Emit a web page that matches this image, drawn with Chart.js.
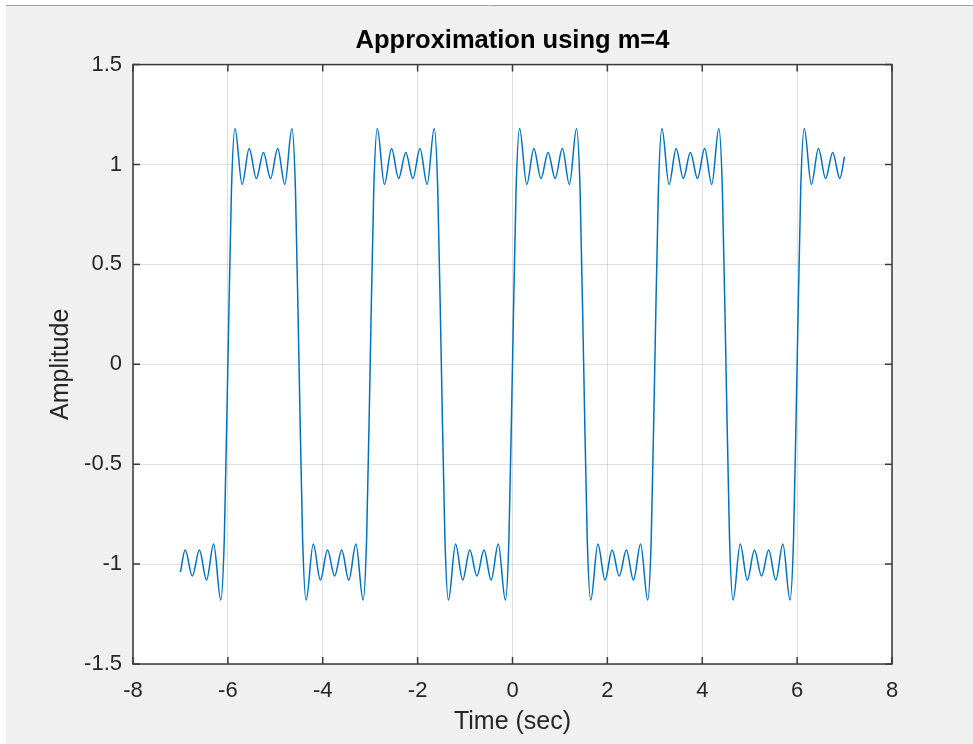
<!DOCTYPE html>
<html>
<head>
<meta charset="utf-8">
<title>Approximation using m=4</title>
<script src="https://cdn.jsdelivr.net/npm/chart.js@4.4.1/dist/chart.umd.min.js"></script>
<style>
    html, body { margin: 0; padding: 0; background: #ffffff; }
    canvas { display: block; }
</style>
</head>
<body>
<canvas id="approxChart" width="973" height="744"></canvas>
<script>
// Values (time in sec, amplitude)
const timeValues = [
    -7.00, -6.90, -6.75, -6.60, -6.45, -6.30, -6.15, -6.075, -6.00,
    -5.925, -5.85, -5.70, -5.55, -5.40, -5.25, -5.10, -4.95, -4.80, -4.65, -4.575, -4.50,
    -4.425, -4.35, -4.20, -4.05, -3.90, -3.75, -3.60, -3.45, -3.30, -3.15, -3.075, -3.00,
    -2.925, -2.85, -2.70, -2.55, -2.40, -2.25, -2.10, -1.95, -1.80, -1.65, -1.575, -1.50,
    -1.425, -1.35, -1.20, -1.05, -0.90, -0.75, -0.60, -0.45, -0.30, -0.15, -0.075, 0.00,
    0.075, 0.15, 0.30, 0.45, 0.60, 0.75, 0.90, 1.05, 1.20, 1.35, 1.425, 1.50,
    1.575, 1.65, 1.80, 1.95, 2.10, 2.25, 2.40, 2.55, 2.70, 2.85, 2.925, 3.00,
    3.075, 3.15, 3.30, 3.45, 3.60, 3.75, 3.90, 4.05, 4.20, 4.35, 4.425, 4.50,
    4.575, 4.65, 4.80, 4.95, 5.10, 5.25, 5.40, 5.55, 5.70, 5.85, 5.925, 6.00,
    6.075, 6.15, 6.30, 6.45, 6.60, 6.75, 6.90, 7.00
];

const amplitudeValues = [
    -1.04, -0.93, -1.06, -0.93, -1.08, -0.90, -1.18, -0.87, 0,
    0.87, 1.18, 0.90, 1.08, 0.93, 1.06, 0.93, 1.08, 0.90, 1.18, 0.87, 0,
    -0.87, -1.18, -0.90, -1.08, -0.93, -1.06, -0.93, -1.08, -0.90, -1.18, -0.87, 0,
    0.87, 1.18, 0.90, 1.08, 0.93, 1.06, 0.93, 1.08, 0.90, 1.18, 0.87, 0,
    -0.87, -1.18, -0.90, -1.08, -0.93, -1.06, -0.93, -1.08, -0.90, -1.18, -0.87, 0,
    0.87, 1.18, 0.90, 1.08, 0.93, 1.06, 0.93, 1.08, 0.90, 1.18, 0.87, 0,
    -0.87, -1.18, -0.90, -1.08, -0.93, -1.06, -0.93, -1.08, -0.90, -1.18, -0.87, 0,
    0.87, 1.18, 0.90, 1.08, 0.93, 1.06, 0.93, 1.08, 0.90, 1.18, 0.87, 0,
    -0.87, -1.18, -0.90, -1.08, -0.93, -1.06, -0.93, -1.08, -0.90, -1.18, -0.87, 0,
    0.87, 1.18, 0.90, 1.08, 0.93, 1.06, 0.93, 1.04
];

// Axis limits and tick steps
const xLimits = [-8, 8];
const xStep = 2;
const yLimits = [-1.5, 1.5];
const yStep = 0.5;

const axisColor = '#3a3a3a';
const textColor = '#262626';
const tickLen = 7;

// Figure background, white axes box, frame and inward ticks (MATLAB look)
const matlabFrame = {
    id: 'matlabFrame',
    beforeDraw(chart) {
        const ctx = chart.ctx;
        const area = chart.chartArea;
        ctx.save();
        ctx.fillStyle = '#ffffff';
        ctx.fillRect(0, 0, chart.width, chart.height);
        ctx.fillStyle = '#f0f0f0';
        ctx.fillRect(6, 6, chart.width - 6, chart.height - 6);
        ctx.strokeStyle = '#a0a0a0';
        ctx.lineWidth = 1;
        ctx.beginPath();
        ctx.moveTo(6, 5.5);
        ctx.lineTo(chart.width, 5.5);
        ctx.stroke();
        ctx.fillStyle = '#ffffff';
        ctx.fillRect(area.left, area.top, area.right - area.left, area.bottom - area.top);
        ctx.restore();
    },
    afterDraw(chart) {
        const ctx = chart.ctx;
        const area = chart.chartArea;
        const xScale = chart.scales.x;
        const yScale = chart.scales.y;
        ctx.save();
        ctx.strokeStyle = axisColor;
        ctx.lineWidth = 1.5;
        ctx.beginPath();
        xScale.ticks.forEach(t => {
            const px = xScale.getPixelForValue(t.value);
            ctx.moveTo(px, area.bottom);
            ctx.lineTo(px, area.bottom - tickLen);
            ctx.moveTo(px, area.top);
            ctx.lineTo(px, area.top + tickLen);
        });
        yScale.ticks.forEach(t => {
            const py = yScale.getPixelForValue(t.value);
            ctx.moveTo(area.left, py);
            ctx.lineTo(area.left + tickLen, py);
            ctx.moveTo(area.right, py);
            ctx.lineTo(area.right - tickLen, py);
        });
        ctx.stroke();
        ctx.strokeRect(area.left, area.top, area.right - area.left, area.bottom - area.top);
        ctx.restore();
    }
};

Chart.defaults.font.family = '"Liberation Sans", Arial, Helvetica, sans-serif';
Chart.defaults.color = textColor;

const ctx = document.getElementById('approxChart');
new Chart(ctx, {
    type: 'line',
    data: {
        datasets: [{
            label: 'Approximation',
            data: timeValues.map((t, i) => ({ x: t, y: amplitudeValues[i] })),
            borderColor: '#0072BD',
            borderWidth: 1.5,
            pointRadius: 0,
            fill: false,
            cubicInterpolationMode: 'monotone'
        }]
    },
    options: {
        responsive: false,
        animation: false,
        devicePixelRatio: 1,
        layout: {
            padding: { left: 0, right: 81, top: 0, bottom: 0 }
        },
        plugins: {
            legend: { display: false },
            tooltip: { enabled: false },
            title: {
                display: true,
                text: 'Approximation using m=4',
                color: '#000000',
                fullSize: false,
                font: { size: 25.5, weight: 'bold' },
                padding: { top: 26, bottom: 8 }
            }
        },
        scales: {
            x: {
                type: 'linear',
                min: xLimits[0],
                max: xLimits[1],
                afterFit: scale => { scale.height = 80; },
                ticks: {
                    stepSize: xStep,
                    maxRotation: 0,
                    padding: 14,
                    color: textColor,
                    font: { size: 22 },
                    callback: value => String(value)
                },
                grid: {
                    color: 'rgba(38, 38, 38, 0.15)',
                    drawTicks: false
                },
                border: { display: false },
                title: {
                    display: true,
                    text: 'Time (sec)',
                    color: textColor,
                    font: { size: 25 },
                    padding: { top: 0, bottom: 7 }
                }
            },
            y: {
                type: 'linear',
                min: yLimits[0],
                max: yLimits[1],
                afterFit: scale => { scale.width = 133; },
                ticks: {
                    stepSize: yStep,
                    padding: 11,
                    color: textColor,
                    font: { size: 22 },
                    callback: value => String(value)
                },
                grid: {
                    color: 'rgba(38, 38, 38, 0.15)',
                    drawTicks: false
                },
                border: { display: false },
                title: {
                    display: true,
                    text: 'Amplitude',
                    color: textColor,
                    font: { size: 25 },
                    padding: { top: 46, bottom: 0 }
                }
            }
        }
    },
    plugins: [matlabFrame]
});
</script>
</body>
</html>
